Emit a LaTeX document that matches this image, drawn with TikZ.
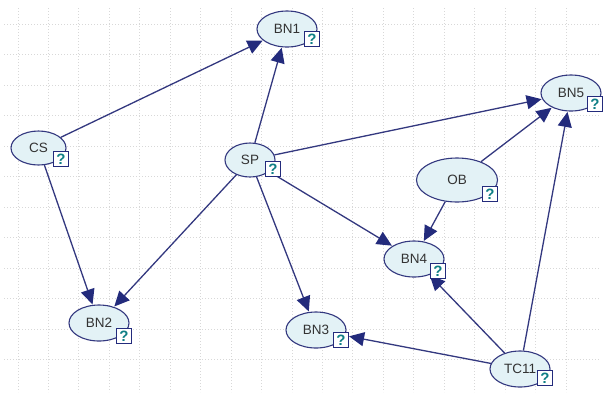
\documentclass[tikz,border=0pt]{standalone}
\usepackage{fontspec}
\setmainfont{Liberation Sans}
\usetikzlibrary{shapes.geometric,arrows.meta}
\definecolor{edgeblue}{HTML}{33387F}
\definecolor{tipblue}{HTML}{232B7C}
\definecolor{nodefill}{HTML}{E3F2F6}
\definecolor{gridgray}{HTML}{D8D8D8}
\definecolor{qteal}{HTML}{0F7F85}
\tikzset{
  bnode/.style={ellipse,draw=edgeblue,line width=1.1pt,fill=nodefill,inner sep=0pt,minimum width=60pt,minimum height=36pt,font=\fontsize{13.5}{14}\selectfont,text=black!80},
  helpbox/.style={rectangle,draw=tipblue,line width=1.2pt,fill=white,inner sep=0pt,minimum size=15.5pt,font=\fontsize{15}{15}\bfseries\selectfont,text=qteal},
  link/.style={draw=edgeblue,line width=1.3pt,-{Triangle[length=15pt,width=14pt,color=tipblue]},shorten >=0.5pt},
  gridline/.style={draw=gridgray,line width=1pt,dotted}
}
\begin{document}
\begin{tikzpicture}[x=1pt,y=-1pt]
\useasboundingbox (0,0) rectangle (604,392);
\fill[white] (0,0) rectangle (604,392);
\foreach \i in {0,...,18} \draw[gridline] ({18+30.45*\i},8) -- ({18+30.45*\i},392);
\foreach \j in {0,...,11} \draw[gridline] (4,{24.5+30.45*\j}) -- (600,{24.5+30.45*\j});
\node[bnode] (BN1) at (287,29) {BN1};
\node[bnode,minimum width=55pt,minimum height=34pt] (CS) at (38.5,148) {CS};
\node[bnode,minimum width=50pt,minimum height=34pt] (SP) at (250,160) {SP};
\node[bnode] (BN5) at (571,93) {BN5};
\node[bnode,minimum width=81pt,minimum height=44pt] (OB) at (457,180) {OB};
\node[bnode] (BN4) at (414,259) {BN4};
\node[bnode] (BN2) at (99,323) {BN2};
\node[bnode] (BN3) at (316,330) {BN3};
\node[bnode] (TC11) at (520,369) {TC11};
\draw[link] (CS) -- (BN1);
\draw[link] (CS) -- (BN2);
\draw[link] (SP) -- (BN1);
\draw[link] (SP) -- (BN5);
\draw[link] (SP) -- (BN4);
\draw[link] (SP) -- (BN3);
\draw[link] (SP) -- (BN2);
\draw[link] (OB) -- (BN5);
\draw[link] (OB) -- (BN4);
\draw[link] (TC11) -- (BN5);
\draw[link] (TC11) -- (BN4);
\draw[link,shorten >=4pt] (TC11) -- (BN3);
\node[helpbox] (qBN1) at (312,39) {?};
\node[helpbox] (qCS) at (61,159) {?};
\node[helpbox] (qSP) at (273,169) {?};
\node[helpbox] (qBN5) at (595,104) {?};
\node[helpbox] (qOB) at (490,194) {?};
\node[helpbox] (qBN4) at (438,271) {?};
\node[helpbox] (qBN2) at (124,336) {?};
\node[helpbox] (qBN3) at (341,340) {?};
\node[helpbox] (qTC11) at (545,378) {?};
\end{tikzpicture}
\end{document}
